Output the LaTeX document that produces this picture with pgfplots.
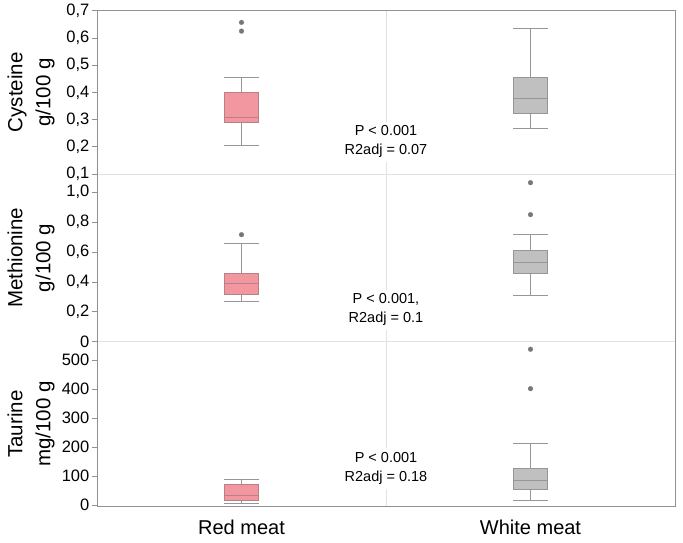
\documentclass[border=0pt]{standalone}
\usepackage{fontspec}
\setmainfont{Liberation Sans}
\usepackage{pgfplots}
\pgfplotsset{compat=1.18}
\definecolor{redfill}{RGB}{242,150,160}
\definecolor{redline}{RGB}{185,128,136}
\definecolor{greyfill}{RGB}{192,192,192}
\definecolor{boxline}{RGB}{150,150,150}
\definecolor{outl}{RGB}{118,118,118}
\definecolor{gridc}{RGB}{226,226,226}
\definecolor{framec}{RGB}{145,145,145}

\tikzset{annot/.style={fill=white, align=center, font=\fontsize{14.5bp}{19bp}\selectfont, inner sep=4bp}}

\pgfplotsset{
  panel/.style={
    scale only axis, width=578bp,
    xmin=0.5, xmax=2.5,
    axis line style={draw=none},
    xtick={1,2}, xticklabels={},
    x tick style={draw=none},
    extra x ticks={1.5}, extra x tick labels={},
    extra x tick style={grid=major, major grid style={gridc, line width=0.9bp}, tick style={draw=none}},
    ytick pos=left, ytick align=outside, major tick length=5bp,
    y tick style={framec, line width=0.8bp},
    yticklabel style={font=\fontsize{16.5bp}{18bp}\selectfont, inner sep=2.5bp},
    every axis y label/.style={at={(axis description cs:-0.1142,0.5)}, rotate=90, anchor=center, align=center, font=\fontsize{20.5bp}{28bp}\selectfont},
    clip=false,
  },
  whisk/.style={draw=boxline, line width=0.9bp, mark=none},
  redb/.style={draw=redline, fill=redfill, line width=0.9bp, mark=none},
  redm/.style={draw=redline, line width=0.9bp, mark=none},
  greyb/.style={draw=boxline, fill=greyfill, line width=0.9bp, mark=none},
  greym/.style={draw=boxline, line width=0.9bp, mark=none},
  outlier/.style={only marks, mark=*, mark size=2.4bp, mark options={draw=outl, fill=outl, line width=0.2bp}},
}

\begin{document}
\begin{tikzpicture}
\useasboundingbox (0,0) rectangle (683bp,-543bp);

% Panel 1: Cysteine
\begin{axis}[panel, name=p1, at={(97bp,-10.7bp)}, anchor=north west, height=163.3bp,
  ymin=0.1, ymax=0.7, ytick={0.1,0.2,0.3,0.4,0.5,0.6,0.7},
  yticklabels={{0,1},{0,2},{0,3},{0,4},{0,5},{0,6},{0,7}},
  ylabel={Cysteine\\g/100 g}]
% Red meat: lw 0.205, q1 0.288, med 0.306, q3 0.399, uw 0.455
\addplot[whisk] coordinates {(1,0.205) (1,0.288)};
\addplot[whisk] coordinates {(1,0.399) (1,0.455)};
\addplot[whisk] coordinates {(0.94,0.205) (1.06,0.205)};
\addplot[whisk] coordinates {(0.94,0.455) (1.06,0.455)};
\addplot[redb] coordinates {(0.94,0.288) (1.06,0.288) (1.06,0.399) (0.94,0.399)} -- cycle;
\addplot[redm] coordinates {(0.94,0.306) (1.06,0.306)};
\addplot[outlier] coordinates {(1,0.657) (1,0.625)};
% White meat: lw 0.269, q1 0.324, med 0.379, q3 0.456, uw 0.634
\addplot[whisk] coordinates {(2,0.269) (2,0.324)};
\addplot[whisk] coordinates {(2,0.456) (2,0.634)};
\addplot[whisk] coordinates {(1.94,0.269) (2.06,0.269)};
\addplot[whisk] coordinates {(1.94,0.634) (2.06,0.634)};
\addplot[greyb] coordinates {(1.94,0.324) (2.06,0.324) (2.06,0.456) (1.94,0.456)} -- cycle;
\addplot[greym] coordinates {(1.94,0.379) (2.06,0.379)};
\node[annot] at (axis cs:1.5,0.219) {P < 0.001\\R2adj = 0.07};
\end{axis}

% Panel 2: Methionine
\begin{axis}[panel, name=p2, at={(97bp,-174bp)}, anchor=north west, height=167.7bp,
  ymin=0, ymax=1.122, ytick={0,0.2,0.4,0.6,0.8,1.0},
  yticklabels={0,{0,2},{0,4},{0,6},{0,8},{1,0}},
  ylabel={Methionine\\g/100 g}]
% Red meat: lw 0.268, q1 0.319, med 0.390, q3 0.460, uw 0.658
\addplot[whisk] coordinates {(1,0.268) (1,0.319)};
\addplot[whisk] coordinates {(1,0.460) (1,0.658)};
\addplot[whisk] coordinates {(0.94,0.268) (1.06,0.268)};
\addplot[whisk] coordinates {(0.94,0.658) (1.06,0.658)};
\addplot[redb] coordinates {(0.94,0.319) (1.06,0.319) (1.06,0.460) (0.94,0.460)} -- cycle;
\addplot[redm] coordinates {(0.94,0.390) (1.06,0.390)};
\addplot[outlier] coordinates {(1,0.716)};
% White meat: lw 0.310, q1 0.455, med 0.528, q3 0.611, uw 0.720
\addplot[whisk] coordinates {(2,0.310) (2,0.455)};
\addplot[whisk] coordinates {(2,0.611) (2,0.720)};
\addplot[whisk] coordinates {(1.94,0.310) (2.06,0.310)};
\addplot[whisk] coordinates {(1.94,0.720) (2.06,0.720)};
\addplot[greyb] coordinates {(1.94,0.455) (2.06,0.455) (2.06,0.611) (1.94,0.611)} -- cycle;
\addplot[greym] coordinates {(1.94,0.528) (2.06,0.528)};
\addplot[outlier] coordinates {(2,1.064) (2,0.850)};
\node[annot] at (axis cs:1.5,0.215) {P < 0.001,\\R2adj = 0.1};
\end{axis}

% Panel 3: Taurine
\begin{axis}[panel, name=p3, at={(97bp,-341.7bp)}, anchor=north west, height=165bp,
  ymin=-5.9, ymax=563, ytick={0,100,200,300,400,500},
  yticklabels={0,100,200,300,400,500},
  ylabel={Taurine\\mg/100 g},
  xticklabels={Red meat, White meat},
  xticklabel style={font=\fontsize{20bp}{24bp}\selectfont, yshift=-10bp}]
% Red meat: lw 6, q1 16, med 32, q3 70, uw 88.6
\addplot[whisk] coordinates {(1,6) (1,16)};
\addplot[whisk] coordinates {(1,70) (1,88.6)};
\addplot[whisk] coordinates {(0.94,6) (1.06,6)};
\addplot[whisk] coordinates {(0.94,88.6) (1.06,88.6)};
\addplot[redb] coordinates {(0.94,16) (1.06,16) (1.06,70) (0.94,70)} -- cycle;
\addplot[redm] coordinates {(0.94,32) (1.06,32)};
% White meat: lw 14, q1 54, med 85, q3 125, uw 211
\addplot[whisk] coordinates {(2,14) (2,54)};
\addplot[whisk] coordinates {(2,125) (2,211)};
\addplot[whisk] coordinates {(1.94,14) (2.06,14)};
\addplot[whisk] coordinates {(1.94,211) (2.06,211)};
\addplot[greyb] coordinates {(1.94,54) (2.06,54) (2.06,125) (1.94,125)} -- cycle;
\addplot[greym] coordinates {(1.94,85) (2.06,85)};
\addplot[outlier] coordinates {(2,537) (2,401)};
\node[annot] at (axis cs:1.5,126) {P < 0.001\\R2adj = 0.18};
\end{axis}

\draw[gridc, line width=0.9bp] (p1.south west) -- (p1.south east);
\draw[gridc, line width=0.9bp] (p2.south west) -- (p2.south east);
\draw[framec, line width=0.9bp] (p1.north west) rectangle (p3.south east);
\end{tikzpicture}
\end{document}
